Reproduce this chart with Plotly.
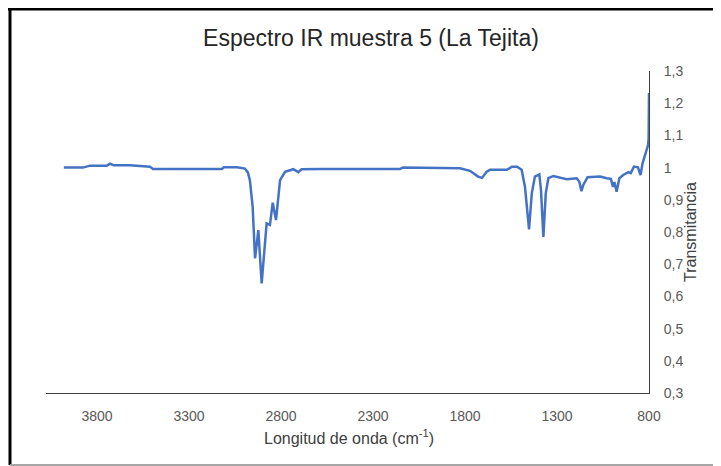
import plotly.graph_objects as go

# Data
wavenumber = [3980, 3876, 3838, 3784, 3746, 3729, 3708, 3621, 3539, 3512, 3496,
              3121, 3110, 3039, 2996, 2980, 2969, 2954, 2941, 2923, 2905, 2892,
              2878, 2860, 2845, 2827, 2815, 2805, 2778, 2733, 2706, 2688, 2588,
              2153, 2137, 1827, 1773, 1729, 1708, 1682, 1664, 1572, 1545, 1517,
              1492, 1474, 1452, 1437, 1420, 1396, 1387, 1374, 1361, 1347, 1320,
              1284, 1247, 1193, 1179, 1167, 1157, 1134, 1066, 1030, 1007, 996,
              988, 976, 961, 940, 912, 899, 882, 860, 846, 835, 819, 805, 802, 800]
transmitance = [1.000, 1.000, 1.006, 1.007, 1.006, 1.012, 1.007, 1.007, 1.005, 1.003, 0.996,
                0.996, 1.001, 1.001, 0.997, 0.985, 0.961, 0.879, 0.718, 0.806, 0.640, 0.740,
                0.827, 0.822, 0.891, 0.837, 0.910, 0.961, 0.987, 0.995, 0.986, 0.995, 0.996,
                0.996, 1.000, 0.998, 0.990, 0.972, 0.968, 0.987, 0.993, 0.993, 1.003, 1.003,
                0.993, 0.940, 0.808, 0.920, 0.972, 0.979, 0.930, 0.785, 0.920, 0.967, 0.974,
                0.970, 0.964, 0.967, 0.957, 0.927, 0.946, 0.970, 0.972, 0.967, 0.965, 0.940,
                0.955, 0.925, 0.967, 0.977, 0.986, 0.983, 1.003, 1.001, 0.977, 1.013, 1.040,
                1.070, 1.090, 1.232]

x_ticks = [3800, 3300, 2800, 2300, 1800, 1300, 800]
x_tick_labels = ["3800", "3300", "2800", "2300", "1800", "1300", "800"]
y_ticks = [0.3, 0.4, 0.5, 0.6, 0.7, 0.8, 0.9, 1.0, 1.1, 1.2, 1.3]
y_tick_labels = ["0,3", "0,4", "0,5", "0,6", "0,7", "0,8", "0,9", "1", "1,1", "1,2", "1,3"]

# The page body has an 8px margin, so the figure is drawn 8px in from the window corner.
OFF = 8
W, H = 721 - OFF, 466 - OFF
# plot area in page pixels
PL, PR, PT, PB = 46, 649, 71, 393
L, R, T, B = PL - OFF, PR - OFF, PT - OFF, PB - OFF


def px(page_x):
    return (page_x - OFF - L) / (R - L)


def py(page_y):
    return (B - (page_y - OFF)) / (B - T)


fig = go.Figure()
fig.add_trace(go.Scatter(
    x=wavenumber, y=transmitance, mode="lines",
    line=dict(color="#4472C4", width=2.5),
    showlegend=False, hoverinfo="skip"))

font_family = "Liberation Sans, Arial, sans-serif"

fig.update_layout(
    width=W, height=H,
    margin=dict(l=L, r=W - R, t=T, b=H - B, pad=0),
    paper_bgcolor="white", plot_bgcolor="white",
    font=dict(family=font_family, color="#595959"),
    title=dict(text="Espectro IR muestra 5 (La Tejita)",
               x=px(371), xref="paper", xanchor="center",
               y=1 - (38 - OFF) / H, yref="container", yanchor="middle",
               font=dict(size=23, color="#262626", family=font_family)),
    xaxis=dict(range=[4077, 800], tickvals=x_ticks, ticktext=x_tick_labels,
               showgrid=False, zeroline=False, showline=True, linecolor="#3f3f3f",
               linewidth=1, ticks="", ticklabelstandoff=10,
               tickfont=dict(size=14, color="#595959")),
    yaxis=dict(range=[0.3, 1.3], tickvals=y_ticks, ticktext=y_tick_labels,
               side="right", showgrid=False, zeroline=False, showline=True,
               linecolor="#3f3f3f", linewidth=1, ticks="", ticklabelstandoff=11,
               tickfont=dict(size=14, color="#595959")),
    annotations=[
        dict(text="Longitud de onda (cm<sup>-1</sup>)", xref="paper", yref="paper",
             x=px(349), y=py(437), xanchor="center", yanchor="middle",
             showarrow=False, font=dict(size=16, color="#404040")),
        dict(text="Transmitancia", xref="paper", yref="paper",
             x=px(690), y=py(232), xanchor="center", yanchor="middle",
             textangle=-90, showarrow=False, font=dict(size=16, color="#404040")),
    ],
    shapes=[
        dict(type="line", xref="paper", yref="paper", x0=px(8), x1=px(721),
             y0=py(9), y1=py(9), line=dict(color="black", width=3)),
        dict(type="line", xref="paper", yref="paper", x0=px(10), x1=px(10),
             y0=py(8), y1=py(465), line=dict(color="black", width=3)),
        dict(type="line", xref="paper", yref="paper", x0=px(10), x1=px(721),
             y0=py(465), y1=py(465), line=dict(color="#a6a6a6", width=2)),
    ],
)

fig.write_html("out.html")
